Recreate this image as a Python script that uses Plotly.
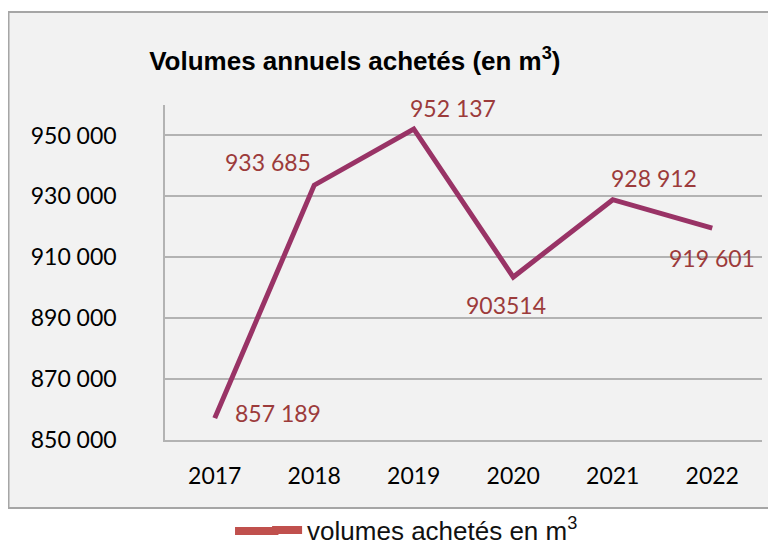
import plotly.graph_objects as go

# ---- data ----
years = ["2017", "2018", "2019", "2020", "2021", "2022"]
volumes = [857189, 933685, 952137, 903514, 928912, 919601]
value_labels = ["857 189", "933 685", "952 137", "903514", "928 912", "919 601"]
y_tickvals = [850000, 870000, 890000, 910000, 930000, 950000]
y_ticktext = ["850 000", "870 000", "890 000", "910 000", "930 000", "950 000"]
series_name = "volumes achetés en m<sup>3</sup>"
title_text = "Volumes annuels achetés (en m<sup>3</sup>)"

# label placement (anchor, x shift px, y shift px) per point
label_place = [
    ("left", 18, 5),
    ("right", -1, 23),
    ("left", -6, 21),
    ("center", -7, -28),
    ("left", -4, 22),
    ("right", 45, -30),
]

LINE_COLOR = "#993366"
LABEL_COLOR = "#9C3B3B"
LEGEND_COLOR = "#C0504D"
TICK_FONT = "Lato, 'Open Sans', sans-serif"

fig = go.Figure()

fig.add_trace(go.Scatter(
    x=years, y=volumes, mode="lines",
    line=dict(color=LINE_COLOR, width=5),
    showlegend=False, hoverinfo="skip",
))

# legend-only entry (Excel shows a different legend swatch colour)
fig.add_trace(go.Scatter(
    x=[None], y=[None], mode="lines", name=series_name,
    line=dict(color=LEGEND_COLOR, width=8),
    showlegend=True,
))

for i, (yv, txt, (anc, dx, dy)) in enumerate(zip(volumes, value_labels, label_place)):
    fig.add_annotation(
        x=i, y=yv, xref="x", yref="y", text=txt, showarrow=False,
        xanchor=anc, yanchor="middle", xshift=dx, yshift=dy,
        font=dict(family=TICK_FONT, size=23, color=LABEL_COLOR),
    )

# chart-area box (light grey fill with border)
fig.add_shape(
    type="rect", xref="paper", yref="paper",
    x0=-0.2621, x1=1.04, y0=-0.203, y1=1.2776,
    fillcolor="#f2f2f2", line=dict(color="#a6a6a6", width=2),
    layer="below",
)

# lengthen the legend swatch to match the wide Excel legend key
fig.add_shape(
    type="line", xref="paper", yref="paper",
    x0=0.1173, x1=0.19, y0=-0.2716, y1=-0.2716,
    line=dict(color=LEGEND_COLOR, width=8),
)

fig.update_layout(
    width=776, height=541,
    margin=dict(l=157, r=22, t=97, b=109, autoexpand=False),
    paper_bgcolor="white",
    plot_bgcolor="rgba(0,0,0,0)",
    title=dict(
        text=title_text, x=0.447, xanchor="center", y=0.902, yanchor="middle",
        font=dict(family="'Liberation Sans', Arial, sans-serif", size=26, color="black", weight="bold"),
    ),
    showlegend=True,
    legend=dict(
        orientation="h", x=0.171, xanchor="left", y=-0.2687, yanchor="middle",
        font=dict(family="'Liberation Sans', Arial, sans-serif", size=26, color="#111111"),
        bgcolor="rgba(0,0,0,0)",
    ),
    xaxis=dict(
        type="category", range=[-0.5, 5.5],
        showgrid=False, showline=True, linecolor="#b3b3b3", linewidth=1.5,
        ticks="", ticklabelstandoff=15,
        tickfont=dict(family=TICK_FONT, size=23, color="black"),
        fixedrange=True,
    ),
    yaxis=dict(
        range=[850000, 960000],
        tickvals=y_tickvals, ticktext=y_ticktext,
        showgrid=True, gridcolor="#b3b3b3", gridwidth=1.5,
        showline=True, linecolor="#b3b3b3", linewidth=1.5,
        zeroline=False, ticks="", ticklabelstandoff=42,
        tickfont=dict(family=TICK_FONT, size=23, color="black"),
        fixedrange=True,
    ),
)

fig.write_html("out.html")
